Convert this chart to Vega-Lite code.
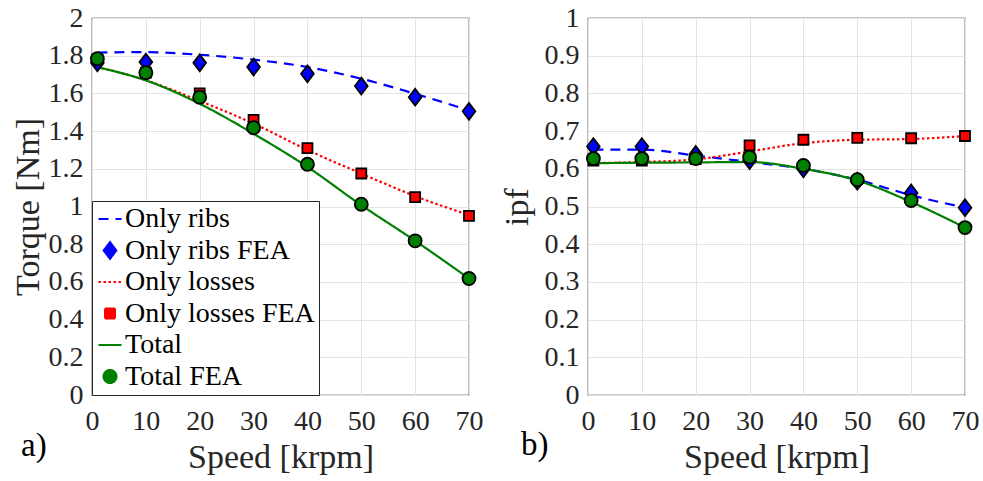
{
  "$schema": "https://vega.github.io/schema/vega-lite/v6.json",
  "padding": {"left": 10, "top": 3, "right": 5, "bottom": 5},
  "background": "white",
  "datasets": {
    "torque": [
      {"s": "Only ribs", "x": 1, "y": 1.817},
      {"s": "Only ribs", "x": 10, "y": 1.819},
      {"s": "Only ribs", "x": 20, "y": 1.805},
      {"s": "Only ribs", "x": 30, "y": 1.779},
      {"s": "Only ribs", "x": 40, "y": 1.74},
      {"s": "Only ribs", "x": 50, "y": 1.678},
      {"s": "Only ribs", "x": 60, "y": 1.598},
      {"s": "Only ribs", "x": 70, "y": 1.51},
      {"s": "Only losses", "x": 1, "y": 1.74},
      {"s": "Only losses", "x": 10, "y": 1.67},
      {"s": "Only losses", "x": 20, "y": 1.56},
      {"s": "Only losses", "x": 30, "y": 1.44},
      {"s": "Only losses", "x": 40, "y": 1.30},
      {"s": "Only losses", "x": 50, "y": 1.175},
      {"s": "Only losses", "x": 60, "y": 1.055},
      {"s": "Only losses", "x": 70, "y": 0.955},
      {"s": "Total", "x": 1, "y": 1.739},
      {"s": "Total", "x": 10, "y": 1.669},
      {"s": "Total", "x": 20, "y": 1.545},
      {"s": "Total", "x": 30, "y": 1.386},
      {"s": "Total", "x": 40, "y": 1.21},
      {"s": "Total", "x": 50, "y": 1.007},
      {"s": "Total", "x": 60, "y": 0.818},
      {"s": "Total", "x": 70, "y": 0.618},
      {"s": "Only ribs FEA", "x": 1, "y": 1.762},
      {"s": "Only ribs FEA", "x": 10, "y": 1.766},
      {"s": "Only ribs FEA", "x": 20, "y": 1.762},
      {"s": "Only ribs FEA", "x": 30, "y": 1.74},
      {"s": "Only ribs FEA", "x": 40, "y": 1.704},
      {"s": "Only ribs FEA", "x": 50, "y": 1.639},
      {"s": "Only ribs FEA", "x": 60, "y": 1.58},
      {"s": "Only ribs FEA", "x": 70, "y": 1.505},
      {"s": "Only losses FEA", "x": 1, "y": 1.78},
      {"s": "Only losses FEA", "x": 10, "y": 1.71},
      {"s": "Only losses FEA", "x": 20, "y": 1.60},
      {"s": "Only losses FEA", "x": 30, "y": 1.46},
      {"s": "Only losses FEA", "x": 40, "y": 1.31},
      {"s": "Only losses FEA", "x": 50, "y": 1.175},
      {"s": "Only losses FEA", "x": 60, "y": 1.05},
      {"s": "Only losses FEA", "x": 70, "y": 0.95},
      {"s": "Total FEA", "x": 1, "y": 1.784},
      {"s": "Total FEA", "x": 10, "y": 1.71},
      {"s": "Total FEA", "x": 20, "y": 1.58},
      {"s": "Total FEA", "x": 30, "y": 1.418},
      {"s": "Total FEA", "x": 40, "y": 1.224},
      {"s": "Total FEA", "x": 50, "y": 1.012},
      {"s": "Total FEA", "x": 60, "y": 0.818},
      {"s": "Total FEA", "x": 70, "y": 0.618}
    ],
    "ipf": [
      {"s": "Only ribs", "x": 1, "y": 0.651},
      {"s": "Only ribs", "x": 10, "y": 0.651},
      {"s": "Only ribs", "x": 20, "y": 0.635},
      {"s": "Only ribs", "x": 30, "y": 0.618},
      {"s": "Only ribs", "x": 40, "y": 0.600},
      {"s": "Only ribs", "x": 50, "y": 0.571},
      {"s": "Only ribs", "x": 60, "y": 0.530},
      {"s": "Only ribs", "x": 70, "y": 0.497},
      {"s": "Only losses", "x": 1, "y": 0.615},
      {"s": "Only losses", "x": 10, "y": 0.618},
      {"s": "Only losses", "x": 20, "y": 0.625},
      {"s": "Only losses", "x": 30, "y": 0.646},
      {"s": "Only losses", "x": 40, "y": 0.668},
      {"s": "Only losses", "x": 50, "y": 0.677},
      {"s": "Only losses", "x": 60, "y": 0.679},
      {"s": "Only losses", "x": 70, "y": 0.687},
      {"s": "Total", "x": 1, "y": 0.615},
      {"s": "Total", "x": 10, "y": 0.616},
      {"s": "Total", "x": 20, "y": 0.617},
      {"s": "Total", "x": 30, "y": 0.618},
      {"s": "Total", "x": 40, "y": 0.600},
      {"s": "Total", "x": 50, "y": 0.569},
      {"s": "Total", "x": 60, "y": 0.512},
      {"s": "Total", "x": 70, "y": 0.444},
      {"s": "Only ribs FEA", "x": 1, "y": 0.659},
      {"s": "Only ribs FEA", "x": 10, "y": 0.659},
      {"s": "Only ribs FEA", "x": 20, "y": 0.638},
      {"s": "Only ribs FEA", "x": 30, "y": 0.622},
      {"s": "Only ribs FEA", "x": 40, "y": 0.600},
      {"s": "Only ribs FEA", "x": 50, "y": 0.567},
      {"s": "Only ribs FEA", "x": 60, "y": 0.536},
      {"s": "Only ribs FEA", "x": 70, "y": 0.497},
      {"s": "Only losses FEA", "x": 1, "y": 0.622},
      {"s": "Only losses FEA", "x": 10, "y": 0.622},
      {"s": "Only losses FEA", "x": 20, "y": 0.626},
      {"s": "Only losses FEA", "x": 30, "y": 0.662},
      {"s": "Only losses FEA", "x": 40, "y": 0.677},
      {"s": "Only losses FEA", "x": 50, "y": 0.682},
      {"s": "Only losses FEA", "x": 60, "y": 0.681},
      {"s": "Only losses FEA", "x": 70, "y": 0.687},
      {"s": "Total FEA", "x": 1, "y": 0.627},
      {"s": "Total FEA", "x": 10, "y": 0.627},
      {"s": "Total FEA", "x": 20, "y": 0.627},
      {"s": "Total FEA", "x": 30, "y": 0.631},
      {"s": "Total FEA", "x": 40, "y": 0.609},
      {"s": "Total FEA", "x": 50, "y": 0.571},
      {"s": "Total FEA", "x": 60, "y": 0.516},
      {"s": "Total FEA", "x": 70, "y": 0.444}
    ]
  },
  "spacing": 15,
  "resolve": {"scale": {"color": "independent", "strokeDash": "independent", "x": "independent", "y": "independent"}},
  "hconcat": [
    {
      "width": 377,
      "height": 377,
      "data": {"name": "torque"},
      "title": {"text": "a)", "orient": "bottom", "anchor": "start", "offset": -44, "dx": 10, "fontSize": 33, "font": "Liberation Serif", "fontWeight": "normal", "color": "black"},
      "encoding": {
        "x": {"field": "x", "type": "quantitative", "scale": {"domain": [0, 70], "nice": false}, "axis": {"values": [0, 10, 20, 30, 40, 50, 60, 70], "title": "Speed [krpm]"}},
        "y": {"field": "y", "type": "quantitative", "scale": {"domain": [0, 2], "nice": false}, "axis": {"values": [0, 0.2, 0.4, 0.6, 0.8, 1, 1.2, 1.4, 1.6, 1.8, 2], "format": "~g", "title": "Torque [Nm]", "titlePadding": 3}}
      },
      "layer": [
        {
          "transform": [{"filter": {"field": "s", "oneOf": ["Only ribs", "Only losses", "Total"]}}],
          "mark": {"type": "line", "strokeWidth": 2.2, "interpolate": "monotone"},
          "encoding": {
            "color": {"field": "s", "type": "nominal",
              "scale": {"domain": ["Only ribs", "Only ribs FEA", "Only losses", "Only losses FEA", "Total", "Total FEA"], "range": ["#0000ff", "#0000ff", "#ff0000", "#ff0000", "#008000", "#008000"]},
              "legend": {
                "orient": "none", "legendX": 0, "legendY": 183, "title": null,
                "fillColor": "white", "strokeColor": "#262626", "padding": 4,
                "labelFont": "Liberation Serif", "labelFontSize": 28, "labelColor": "black", "labelLimit": 0,
                "symbolSize": 529, "rowPadding": 3.5, "labelOffset": 1, "symbolStrokeWidth": 2,
                "encode": {"symbols": {"update": {
                  "shape": {"signal": "datum.value==='Only ribs FEA' ? 'M0,-1.25L0.95,0L0,1.25L-0.95,0Z' : datum.value==='Only losses FEA' ? 'square' : datum.value==='Total FEA' ? 'circle' : 'stroke'"},
                  "size": {"signal": "datum.value==='Only ribs FEA' ? 180 : datum.value==='Only losses FEA' ? 100 : datum.value==='Total FEA' ? 170 : 529"},
                  "fill": {"signal": "datum.value==='Only ribs FEA' ? '#0000ff' : datum.value==='Only losses FEA' ? '#ff0000' : datum.value==='Total FEA' ? '#008000' : 'transparent'"},
                  "stroke": {"signal": "(datum.value==='Only ribs FEA' || datum.value==='Only losses FEA' || datum.value==='Total FEA') ? 'black' : datum.value==='Only ribs' ? '#0000ff' : datum.value==='Only losses' ? '#ff0000' : '#008000'"},
                  "strokeDash": {"signal": "datum.value==='Only ribs' ? [10,7] : datum.value==='Only losses' ? [2.5,2.5] : [1,0]"},
                  "strokeWidth": {"value": 2},
                  "opacity": {"value": 1}
                }}}
              }
            },
            "strokeDash": {"field": "s", "type": "nominal", "scale": {"domain": ["Only ribs", "Only losses", "Total"], "range": [[10, 7], [2.5, 2.5], [1, 0]]}, "legend": null}
          }
        },
        {
          "transform": [{"filter": {"field": "s", "equal": "Only ribs FEA"}}],
          "mark": {"type": "point", "shape": "M0,-1.25L0.95,0L0,1.25L-0.95,0Z", "size": 180, "filled": true, "fill": "#0000ff", "stroke": "black", "strokeWidth": 1.8, "opacity": 1}
        },
        {
          "transform": [{"filter": {"field": "s", "equal": "Only losses FEA"}}],
          "mark": {"type": "point", "shape": "square", "size": 100, "filled": true, "fill": "#ff0000", "stroke": "black", "strokeWidth": 1.8, "opacity": 1}
        },
        {
          "transform": [{"filter": {"field": "s", "equal": "Total FEA"}}],
          "mark": {"type": "point", "shape": "circle", "size": 170, "filled": true, "fill": "#008000", "stroke": "black", "strokeWidth": 1.8, "opacity": 1}
        }
      ]
    },
    {
      "width": 377,
      "height": 377,
      "data": {"name": "ipf"},
      "title": {"text": "b)", "orient": "bottom", "anchor": "start", "offset": -45, "dx": 21, "fontSize": 33, "font": "Liberation Serif", "fontWeight": "normal", "color": "black"},
      "encoding": {
        "x": {"field": "x", "type": "quantitative", "scale": {"domain": [0, 70], "nice": false}, "axis": {"values": [0, 10, 20, 30, 40, 50, 60, 70], "title": "Speed [krpm]"}},
        "y": {"field": "y", "type": "quantitative", "scale": {"domain": [0, 1], "nice": false}, "axis": {"values": [0, 0.1, 0.2, 0.3, 0.4, 0.5, 0.6, 0.7, 0.8, 0.9, 1], "format": "~g", "title": "ipf", "titlePadding": 10}}
      },
      "layer": [
        {
          "transform": [{"filter": {"field": "s", "oneOf": ["Only ribs", "Only losses", "Total"]}}],
          "mark": {"type": "line", "strokeWidth": 2.2, "interpolate": "monotone"},
          "encoding": {
            "color": {"field": "s", "type": "nominal",
              "scale": {"domain": ["Only ribs", "Only losses", "Total"], "range": ["#0000ff", "#ff0000", "#008000"]},
              "legend": null},
            "strokeDash": {"field": "s", "type": "nominal", "scale": {"domain": ["Only ribs", "Only losses", "Total"], "range": [[10, 7], [2.5, 2.5], [1, 0]]}, "legend": null}
          }
        },
        {
          "transform": [{"filter": {"field": "s", "equal": "Only ribs FEA"}}],
          "mark": {"type": "point", "shape": "M0,-1.25L0.95,0L0,1.25L-0.95,0Z", "size": 180, "filled": true, "fill": "#0000ff", "stroke": "black", "strokeWidth": 1.8, "opacity": 1}
        },
        {
          "transform": [{"filter": {"field": "s", "equal": "Only losses FEA"}}],
          "mark": {"type": "point", "shape": "square", "size": 100, "filled": true, "fill": "#ff0000", "stroke": "black", "strokeWidth": 1.8, "opacity": 1}
        },
        {
          "transform": [{"filter": {"field": "s", "equal": "Total FEA"}}],
          "mark": {"type": "point", "shape": "circle", "size": 170, "filled": true, "fill": "#008000", "stroke": "black", "strokeWidth": 1.8, "opacity": 1}
        }
      ]
    }
  ],
  "config": {
    "font": "Liberation Serif",
    "view": {"stroke": "#262626", "strokeWidth": 1.2},
    "axis": {
      "gridColor": "#e3e3e3", "gridWidth": 1,
      "labelFont": "Liberation Serif", "titleFont": "Liberation Serif",
      "labelFontSize": 28, "titleFontSize": 34,
      "labelColor": "#262626", "titleColor": "#262626", "titleFontWeight": "normal",
      "domain": false, "ticks": false
    },
    "axisX": {"labelPadding": 12, "titlePadding": 5, "labelFlush": false},
    "axisY": {"labelPadding": 9}
  }
}
